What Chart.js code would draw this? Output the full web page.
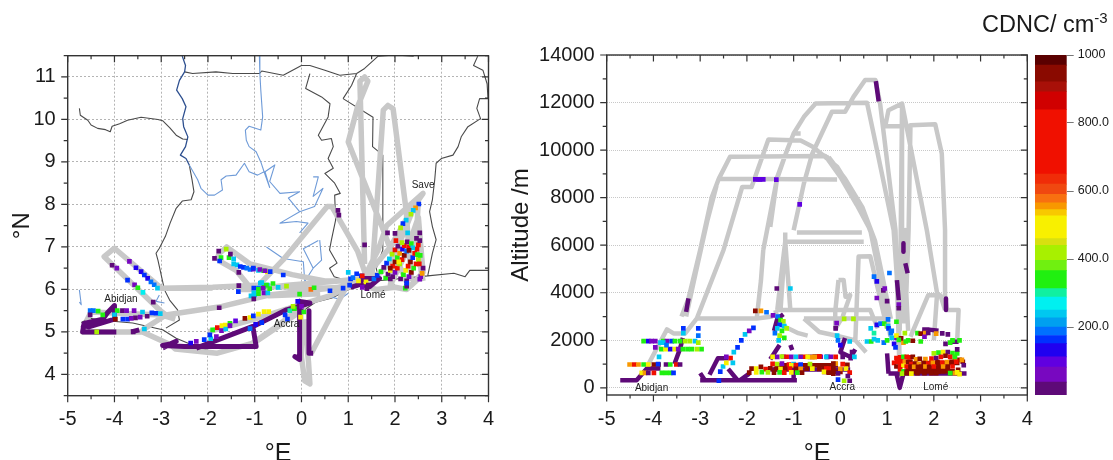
<!DOCTYPE html>
<html lang="en">
<head>
<meta charset="UTF-8" />
<title>CDNC flight tracks</title>
<script src="https://cdn.jsdelivr.net/npm/chart.js"></script>
<style>
  html, body { margin: 0; padding: 0; background: #fff; overflow: hidden; }
  canvas { position: absolute; top: 0; }
  #mapChart { left: 0; }
  #altChart { left: 500px; }
  #barChart { left: 1030px; }
  #cbTitle {
    position: absolute; left: 982px; top: 11px; white-space: nowrap;
    font: 23.5px "Liberation Sans", Arial, sans-serif; color: #1a1a1a;
  }
  #cbTitle sup { font-size: 15px; line-height: 0; }
</style>
</head>
<body>
<canvas id="mapChart" width="510" height="460"></canvas>
<canvas id="altChart" width="560" height="460"></canvas>
<canvas id="barChart" width="83" height="460"></canvas>
<div id="cbTitle">CDNC/ cm<sup>-3</sup></div>

<script>
// axis ticks
const lonTicks = [-5, -4, -3, -2, -1, 0, 1, 2, 3, 4];
const latTicks = [4, 5, 6, 7, 8, 9, 10, 11];
const altTicks = [0, 2000, 4000, 6000, 8000, 10000, 12000, 14000];
const cbTicks = [200, 400, 600, 800, 1000];
const cbTickLabels = ['200.0', '400.0', '600.0', '800.0', '1000'];

// colour bar: upper bound of each band and its colour
const cbBands = [38, 82, 112, 151, 175, 200, 227, 250, 288, 313, 366, 396, 440, 460, 527, 545, 565, 590, 620, 650, 839, 892, 921, 970, 1000];
const cbColors = ['#5e0a78', '#7808c0', '#6000e0', '#2000f0', '#0030ff', '#0070ff', '#00a0f0', '#00c8f0', '#00f0f0', '#10f0a0',
  '#20f010', '#70f010', '#a8f000', '#d8e010', '#f8f000', '#f8c800', '#f89800', '#f87010', '#f04810', '#f02c08',
  '#f01000', '#d00000', '#a81008', '#8a0a00', '#5a0000'];

// place names
const mapPlaceNames = ['Abidjan', 'Accra', 'Lomé', 'Save'];
const mapPlaceLon = [-3.86, -0.32, 1.53, 2.6];
const mapPlaceLat = [5.78, 5.17, 5.86, 8.45];
const altPlaceNames = ['Abidjan', 'Accra', 'Lomé'];
const altPlaceLon = [-4.04, 0.04, 2.04];
const altPlaceAlt = [0, 40, 40];

// country borders, null breaks a line
const borderLon = [-4.75,-4.73,-4.57,-4.5,-4.36,-4.19,-4.09,-4.05,-3.89,-3.72,-3.43,-3.07,-2.97,-2.82,-2.68,-2.54,-2.43,null,
  -2.4,-2.34,-2.3,-2.36,-2.55,-2.68,-2.81,-2.91,-3.04,-3.11,-3.07,-2.93,-2.82,-2.65,-2.61,-2.9,null,
  -2.5,-2.33,-1.83,-1.47,-0.9,-0.85,-0.39,0,0.18,0.5,0.82,1.18,1.35,1.64,2.0,2.4,null,
  3.77,3.68,3.88,3.97,3.99,3.81,3.75,3.83,3.56,3.42,3.35,3.24,2.99,2.88,2.85,2.8,2.74,2.8,2.88,2.8,2.7,3.26,3.5,3.6,4.0,null,
  0.18,0.09,0.43,0.61,0.57,0.36,0.43,0.64,0.68,0.57,0.68,0.5,0.71,0.83,0.71,0.73,0.64,0.6,0.76,0.6,0.7,1.0,1.2,null,
  0.89,1.07,1.18,null,0.89,1.53,1.52,1.74,1.74,1.6,1.65,null,
  -4.71,-4.53,-4.04,-3.61,-2.97,-2.68,-2.18,-1.76,-1,-0.1,0.3,0.65,1.2,1.6,2.7];
const borderLat = [10.26,10.1,9.98,9.87,9.79,9.76,9.71,9.84,9.9,9.98,10.05,10.0,9.97,9.81,9.63,9.54,9.53,null,
  8.93,8.58,8.3,8.11,8.08,7.91,7.56,7.25,6.97,6.85,6.69,5.99,5.75,5.52,5.28,5.09,null,
  11.12,11.08,11.12,11.08,11.08,11.14,11.04,11.27,11.27,11.16,11.04,11.08,11.2,11.49,11.52,11.49,null,
  11.49,11.27,11.16,10.84,10.49,10.49,10.26,10.02,9.83,9.6,9.36,9.16,9.08,8.97,8.58,8.11,7.83,7.48,7.17,6.85,6.32,6.38,6.3,6.45,6.45,null,
  11.08,10.73,10.53,10.37,10.06,9.63,9.51,9.55,9.36,9.08,8.85,8.73,8.5,8.26,8.22,7.63,7.16,6.93,6.62,6.5,6.3,6.2,6.1,null,
  10.49,10.8,11.08,null,10.49,10.05,9.36,9.16,6.93,6.5,6.2,null,
  5.22,5.32,5.25,5.21,5.05,4.85,4.62,4.5,4.75,5.4,5.7,5.8,6.1,6.2,6.32];

// rivers, null breaks a line
const riverLon = [-2.4,-2.22,-2.15,-2.0,-1.86,-1.69,-1.72,-1.61,-1.4,-1.22,-1.12,-0.94,-0.8,-0.68,-0.78,-0.57,-0.68,-0.46,-0.04,-0.28,-0.04,-0.46,-0.11,0.14,-0.04,null,
  -0.9,-0.89,-0.87,-0.83,-0.87,-1.12,-1.2,-1.18,-1.12,-0.97,-0.87,-0.8,null,
  0.25,0.36,0.25,0.46,0.28,-0.04,null,0.39,0.43,0.25,0.07,0.04,-0.39,-0.75,null,0.36,0.04,0.25,null,
  0.64,0.82,1.0,null,-4.75,-4.71,-4.75,null,-3.04,-3.11,-2.93];
const riverLat = [8.93,8.58,8.38,8.22,8.22,8.34,8.58,8.67,8.69,8.97,8.77,8.69,8.77,8.4,8.77,8.93,8.54,8.26,8.3,8.15,7.83,7.56,7.6,7.56,7.33,null,
  11.49,11.08,10.69,10.06,9.75,9.84,9.75,9.51,9.36,9.24,9.0,8.77,null,
  8.65,8.65,8.19,8.38,7.95,7.83,null,7.16,6.69,6.5,6.19,6.65,6.73,7.0,null,7.15,6.96,6.5,null,
  5.82,5.77,5.91,null,5.99,5.64,5.7,null,5.87,5.72,5.68];

// the river stretch that is also the border
const voltaLon = [-2.55,-2.48,-2.5,-2.61,-2.67,-2.55,-2.47,-2.54,-2.52,-2.43,-2.48,-2.59,-2.47,-2.4];
const voltaLat = [11.49,11.27,11.12,10.92,10.69,10.49,10.3,10.02,9.83,9.59,9.36,9.16,9.08,8.93];

// grey flight tracks on the map
const trackLon = [-1.9,-3,-4,-4.22,-3.04,-2.9,-3.38,-2.9,-1.7,-0.7,0.8,1.2,null,
  -4.6,-4.68,-3.96,-3.4,-2.8,-2.7,-1.8,-1,0,0.1,null,-4.6,-4.5,-3,-2.7,null,
  -3,-1.9,-1,0.2,1.0,1.3,null,-1.35,-1.1,-0.3,0.8,1.25,null,
  -1.75,-1.6,-1.1,-0.55,-0.2,0.5,1.2,null,-1.75,-1.8,-1.72,-1.4,-1.1,-0.7,0.4,null,
  -1,-0.39,0.55,0.65,1.2,1.45,null,-2,-1,0,0.6,1.1,null,-1.1,-0.5,0,null,
  1.35,1.25,1.35,1.42,1.2,1.0,1.75,2.05,null,1.5,1.75,1.85,1.96,2.24,2.28,2.35,null,
  1.3,1.64,1.82,2.6,2.5,2.45,2.55,2.6,null,1.3,1.9,2.45,2.1,1.9,2.25,2.5,2.6,2.3,2.0,1.7,1.3,null,
  -0.02,0,0.07,0.18,0.15,0.06,null,0.21,1.0,1.2,null,1.3,1.6,2.0,2.25,2.55];
const trackLat = [6.03,6.03,6.97,6.77,5.52,5.4,5.06,5.4,5.6,5.87,6.05,6.2,null,
  5.15,5.0,5.0,5.0,4.7,4.6,4.5,4.75,5.5,5.7,null,5.25,5.47,5.4,5.3,null,
  6.03,6.05,6.1,6.02,6.05,6.2,null,6.0,6.0,6.1,6.2,6.25,null,
  6.85,7.0,6.6,6.45,6.35,6.2,6.2,null,6.85,6.75,6.65,6.45,6.05,5.85,5.9,null,
  6.0,6.7,7.95,7.95,6.9,6.1,null,5.0,5.3,5.65,5.85,6.1,null,4.7,5.15,5.6,null,
  6.6,10.9,11.0,10.9,10.3,9.47,7.4,6.5,null,6.2,10.22,10.33,10.25,7.85,7.2,6.2,null,
  6.2,6.93,7.5,8.26,8.1,7.1,6.5,6.2,null,6.2,7.0,8.05,7.1,6.1,6.9,7.7,6.4,6.05,6.8,6.4,6.2,null,
  5.6,4.4,3.85,3.78,4.3,5.3,null,4.5,6.15,6.2,null,6.1,6.0,6.05,6.0,6.3];

// long stretches of very low CDNC on the map
const lowMapLon = [-4.71,-4.55,-4.3,-4.0,-4.0,-4.15,-4.25,-4.65,-4.68,-3.96,null,-3.64,-3.47,null,
  -2.97,-2.68,-2.8,-2.97,-2.5,-0.97,-1.04,-2.25,null,-1.1,-0.32,0.18,-0.04,-0.04,-0.14,-0.04,null,0.16,0.16,0.25,null,
  1.05,1.21,1.32,1.67,1.46,1.28,null,0.0,-0.04];
const lowMapLat = [5.17,5.12,5.2,5.3,5.62,5.45,5.3,5.2,5.0,5.0,null,5.0,5.05,null,
  4.62,4.78,4.72,4.68,4.66,4.66,5.13,4.62,null,5.09,5.52,5.68,5.72,4.35,4.42,4.38,null,5.5,4.5,4.5,null,
  6.05,6.1,6.26,6.26,6.07,6.12,null,5.55,5.45];

// coloured samples on the map
const mapLon = [-4.05,-3.95,-3.68,-3.54,-3.43,-3.36,-3.29,-3.22,-3.15,-3.08,
  -3.72,-3.57,-3.5,-3.39,-3.17,
  -4.52,-4.45,-4.52,-4.35,-4.25,-3.94,-3.83,-3.74,-3.58,-3.4,-3.2,-3.11,-3.02,
  -4,-3.98,-3.82,-3.72,-3.64,-3.55,-3.45,-3.3,-3.36,-4.38,-3.6,-1.76,
  -1.9,-1.8,-1.7,-1.63,-1.53,-1.41,-1.21,-1.1,-1.03,-0.92,-0.8,-0.7,
  -2.37,-2.25,-2.08,-1.94,-1.96,-1.82,-1.71,-1.62,-1.53,-1.1,-0.85,-0.98,
  -1.77,-1.86,-1.61,-1.72,-1.75,-1.55,-1.45,-1.52,-1.45,-1.38,-1.31,-1.24,-1.17,-1.1,-1.03,-0.92,-0.81,-0.73,-1.34,-1.34,-1.35,
  -1.08,-1,-1.02,-1.02,-0.92,-0.88,-0.8,-0.73,-0.92,-0.8,-0.72,
  -0.39,-1.03,-0.89,-0.78,-0.67,-0.85,-0.75,-0.61,-1.02,-0.92,-0.82,-0.68,-0.5,-0.32,0.2,0.27,-0.04,0.61,0.89,1.03,
  1.0,1.05,1.18,1.28,-0.35,-0.25,-0.15,-0.3,-0.18,-0.08,0,0.05,-0.02,
  1.1,1.22,1.3,1.38,1.43,1.3,1.4,
  2.51,2.44,2.39,2.34,2.24,2.17,2.12,2.0,1.84,2.27,2.53,2.46,1.35,0.78,0.8,
  1.55,1.62,1.7,1.76,1.82,1.88,1.94,2.0,2.06,
  1.8,1.85,1.9,1.95,2.0,2.05,2.1,2.16,2.2,2.26,
  1.95,2.0,2.05,2.1,2.15,2.2,2.25,2.3,2.35,
  2.12,2.18,2.23,2.28,2.33,2.38,2.42,2.47,
  2.25,2.3,2.35,2.4,2.45,2.5,2.48,2.5,2.53,
  2.55,2.58,2.6,2.52,2.54,2.22,2.25,2.25,2.53,1.9,2.02,2.15,2.38,2.3,2.08,1.9];
const mapLat = [6.57,6.5,6.66,6.51,6.42,6.34,6.26,6.18,6.11,6.03,
  6.22,6.11,6.04,5.93,5.7,
  5.5,5.5,5.4,5.49,5.4,5.5,5.5,5.5,5.5,5.47,5.45,5.44,5.43,
  5.4,5.3,5.3,5.3,5.32,5.33,5.35,5.37,5.07,5.0,5.0,5.57,
  5.05,5.1,5.15,5.16,5.2,5.26,5.32,5.34,5.38,5.42,5.48,5.48,
  4.74,4.78,4.82,4.84,4.93,4.89,5.03,5.07,5.15,5.08,5.22,5.18,
  6.9,6.73,6.95,6.75,6.67,6.75,6.72,6.83,6.6,6.58,6.54,6.52,6.5,6.47,6.48,6.45,6.44,6.42,6.4,6.09,5.95,
  5.85,5.87,5.78,6.03,6.03,6.15,6.07,6.1,5.9,5.92,5.92,
  6.34,6.5,6.47,6.44,6.42,6.16,6.1,6.14,5.92,6.0,6.03,6.02,6.05,6.08,6,6.04,5.89,5.97,6.03,6.1,
  6.4,6.25,6.37,6.32,5.4,5.5,5.55,5.3,5.6,5.72,5.6,5.47,5.35,
  6.28,6.2,6.32,6.18,6.1,6.05,6.02,
  8.01,7.92,7.86,7.77,7.63,7.55,7.45,7.32,7.33,7.33,7.33,7.2,7.05,7.86,7.75,
  6.25,6.33,6.42,6.52,6.62,6.72,6.83,6.93,7.02,
  6.27,6.36,6.45,6.55,6.65,6.75,6.85,6.95,7.03,7.12,
  6.3,6.4,6.5,6.6,6.7,6.8,6.9,7.0,7.08,
  6.25,6.35,6.45,6.55,6.65,6.75,6.85,6.95,
  6.2,6.3,6.4,6.5,6.6,6.7,6.82,7.05,7.15,
  6.3,6.38,6.5,6.6,6.8,6.03,6.08,6.15,6.24,6.25,7.15,7.1,6.98,6.92,6.65,6.5];
const mapCdnc = [20,60,60,120,120,160,120,200,200,250,
  160,60,340,280,30,
  200,200,30,340,330,340,30,60,60,250,160,160,250,
  250,930,160,160,60,30,60,30,250,400,30,30,
  320,680,480,480,340,90,930,480,160,480,480,480,
  120,60,160,250,160,60,60,250,60,200,160,120,
  20,30,400,340,160,340,250,30,250,250,160,160,200,200,80,250,340,480,30,20,160,
  250,250,30,160,200,250,340,250,340,80,250,
  160,160,60,60,160,250,340,340,250,340,80,340,250,400,580,340,340,160,160,160,
  250,160,160,160,160,300,340,160,400,120,60,340,480,
  200,480,700,480,30,80,30,
  160,560,250,400,250,160,400,30,30,250,30,30,30,30,30,
  200,160,320,30,160,250,400,700,30,
  320,30,480,700,930,320,560,120,700,30,
  30,60,700,400,700,930,200,700,320,
  30,320,480,700,930,160,700,700,
  30,60,930,320,700,400,320,700,30,
  60,560,30,700,320,320,30,160,60,30,700,400,250,930,480,930];

// grey flight tracks in the altitude section
const altTrackLon = [-4.14,-3.71,-3.57,-3.32,-3.07,-1.79,-1.45,null,-3.4,-3.25,-3,-2.75,-2.6,-0.07,null,
  -3.3,-3.1,-2.85,-2.65,null,
  -3.07,-2.5,-2.1,-1.9,-1.54,-0.85,-0.6,-0.07,0.4,0.64,0.93,1.07,null,
  -2.6,-2.36,-0.32,0,0.35,0.64,0.78,0.93,1.07,null,
  -0.3,0.05,0.42,0.7,0.85,1.02,null,-0.25,0.1,0.47,0.74,0.9,1.08,null,
  -1.65,-1.36,-1.14,-1,-0.78,-0.53,0.57,0.71,1.14,1.25,1.27,null,
  -1.79,-1.7,-1.65,null,-1.35,-1.25,-1.18,-1.18,null,
  -1.5,-1.35,-1.14,-1,-0.85,null,-1,-0.78,-0.6,-0.18,0.1,0.28,0.53,0.75,0.85,1.18,1.27,null,
  1.27,1.32,1.03,0.96,1.32,1.32,1.32,1.39,1.46,1.5,2.03,2.17,2.24,2.24,2.28,2.53,2.5,null,
  1.32,1.85,2.07,2,null,1.5,1.88,2.14,2.24,null,1.39,1.39,1.45,null,
  0.32,0.39,0.64,1.0,null,-1.18,0.5,null,-0.93,0.46,null,-1.39,0.64,0.8,null,-0.78,1,null,
  -1.07,-1.18,-1.28,null,-0.04,0.07,0.11,0.21,0.05,-0.1,-0.11,-0.04,null,-0.78,-0.45,-0.1,0.32,0.55,null,-1.39,-1.32,-0.9,-0.7];
const altTrackAlt = [880,2460,2290,2290,2920,2920,3000,null,3000,3760,5800,8030,8800,8760,null,
  3000,4800,7000,8500,null,
  2920,5800,8450,8450,10450,10400,10150,9300,7800,6640,3830,2150,null,
  8800,9720,9750,8870,7700,6640,5400,3900,2150,null,
  9750,8900,7700,6300,4800,3000,null,9700,8800,7600,6200,4700,2900,null,
  5800,8760,10000,10700,11400,11960,11990,10700,6630,3500,300,null,
  2920,4500,5800,null,3270,5000,6150,6530,null,
  6770,8870,10000,10700,10700,null,6630,8600,9860,11610,11610,12240,12950,12950,11960,6630,400,null,
  2400,11960,11680,11000,11000,6630,2800,2800,6630,11050,11090,9860,6630,3830,3270,3270,2000,null,
  11960,6630,3970,2000,null,2150,3900,3900,3270,null,6640,4820,2400,null,
  2000,5520,5540,2500,null,6150,6150,null,6530,6530,null,3270,3270,2500,null,2920,2920,null,
  3270,6150,3270,null,4540,4540,3830,3900,3000,2500,3200,4540,null,2920,2350,2200,2000,1500,null,3270,2700,2300,2200];

// long stretches of very low CDNC in the altitude section
const lowAltLon = [-4.71,-4.36,-4.14,-3.85,null,-3.55,-3.43,-3.37,null,-3.25,-3.3,null,-3.0,-0.93,null,-2.9,-3.0,null,
  -2.8,-2.62,-2.4,null,-2.2,-2.4,null,-2.15,-1.95,null,-1.5,0.21,null,-1,-1,null,-1.07,-1.03,null,
  1.03,2.7,null,1.0,1.03,null,1.2,1.27,1.35,null,1.35,1.35,null,1.39,1.44,null,1.21,1.25,null,
  2.26,2.26,null,0.76,0.82,null,-1.5,-1.3,null,0.1,0.0,0.22,0.32,null,2.35,2.53,null,-1.42,-1.35,-1.22,null,1.75,1.9,2.1];
const lowAltAlt = [320,320,810,810,null,1000,1650,2100,null,3760,3200,null,320,320,null,320,620,null,
  550,1250,1250,null,320,800,null,320,600,null,770,770,null,750,320,null,1800,1590,null,
  600,600,null,1450,600,null,600,0,600,null,6080,5730,null,5240,4820,null,4530,3690,null,
  3760,3270,null,12900,12050,null,1200,1800,null,2100,1500,1300,1620,null,1940,1940,null,2400,2900,3100,null,2460,2450,2400];

// long stretches of very high CDNC in the altitude section
const highAltLon = [-1.4,-0.05,null,-0.39,0.05,null,1.3,2.45,null,1.4,2.3,null,1.32,1.55,null,1.75,2.55];
const highAltAlt = [950,950,null,670,670,null,700,700,null,850,850,null,1100,1100,null,1050,1050];

// coloured samples in the altitude section
const altLon = [-4.21,-4.11,-4.04,-3.96,-3.79,-3.71,-3.61,-3.54,-3.43,-3.32,-3.22,-3.11,-3.04,
  -3.83,-3.74,-3.64,-3.54,-3.47,-3.37,-3.27,-3.18,-3.07,-2.97,
  -4.51,-4.41,-4.32,-4.21,-4.11,-3.99,-3.89,-3.73,-3.64,-3.51,-3.43,
  -4.25,-4.18,-4.11,-3.99,-3.82,-3.73,-3.64,-3.57,
  -3.96,-3.85,-3.88,-3.9,-3.79,-3.72,-3.36,-3.36,-3.04,-3.04,
  -2.57,-2.51,-2.44,-2.35,-2.28,-2.2,-2.12,-2.04,-1.95,-1.86,
  -2.6,-2.44,-2.3,-1.82,-1.72,-1.37,-1.65,-1.75,-0.87,-1.36,-1.07,
  -1.82,-1.7,-1.58,-1.44,-1.34,-1.28,-1.22,-1.3,-1.2,-1.15,-1.35,-1.25,-1.4,-1.3,-1.2,-1.32,-1.22,
  -1.45,-1.35,-1.25,-1.15,-1.05,-0.95,-0.85,-0.75,-0.65,-0.55,-0.42,-0.28,-0.1,
  -1.45,-1.35,-1.25,-1.1,-1.0,-0.85,-0.7,-0.6,-0.45,-0.3,-0.2,-0.1,0.05,0.15,
  -1.05,-0.95,-0.85,-0.65,-0.55,-0.45,-0.35,-0.1,-0.15,-0.25,
  -1.9,-1.8,-1.7,-1.6,-1.5,-1.38,-1.28,-1.18,-1.08,-0.95,-0.85,-0.72,-0.6,-0.45,-0.3,-0.15,0.0,0.12,0.2,
  -1.95,-1.8,-1.68,-1.55,-1.42,-1.3,-1.2,-1.05,-0.92,-0.82,
  -0.35,-0.25,-0.15,-0.05,0.08,0.16,0.2,-0.05,0.05,0.22,0.28,
  -0.08,-0.1,-0.07,-0.05,0.0,0.08,0.25,0.3,0.2,
  0.57,0.66,0.72,0.78,0.86,0.94,1.0,0.65,0.72,0.8,0.93,1.0,1.05,
  0.72,0.78,0.92,0.95,0.78,1.0,1.02,
  1.08,1.1,1.15,1.18,1.2,1.02,1.03,1.1,1.2,1.25,1.25,1.2,
  1.38,1.35,1.3,1.25,1.4,1.45,1.55,1.65,1.72,1.82,1.88,2.05,2.18,2.3,2.4,2.5,
  2.0,2.1,2.2,2.3,2.4,2.5,2.55,1.72,1.8,2.25,2.35,2.45,
  1.2,1.28,1.35,1.42,1.48,1.55,1.62,1.7,1.82,1.95,2.05,2.15,2.25,2.35,2.45,2.55,2.62,
  1.15,1.22,1.3,1.38,1.45,1.52,1.6,1.68,1.78,1.88,1.98,2.08,2.18,2.28,2.38,2.48,2.6,2.64,
  1.2,1.28,1.35,1.42,1.5,1.58,1.66,1.74,1.82,1.9,2.0,2.1,2.2,2.3,2.4,2.52,
  1.28,1.35,1.42,1.5,1.6,1.7,1.8,1.9,2.0,2.1,2.2,2.3,2.45,2.5,2.55,
  1.32,1.42,1.52,1.65,1.8,1.95,2.05,2.35,2.55,2.5,2.5,2.48];
const altAlt = [1966,1966,1966,1966,1966,1966,1966,1966,1966,1966,1966,1966,1900,
  1629,1629,1629,1629,1629,1629,1629,1629,1629,1629,
  983,983,983,983,983,983,983,983,983,983,983,
  632,632,632,632,632,632,632,632,
  1700,1900,1300,1000,1900,1800,2300,2500,2200,2500,
  680,900,1050,1250,1500,1700,2000,2250,2400,2520,
  300,1300,1050,8770,8770,8760,8770,8770,7720,4180,4180,
  3240,3240,3180,3050,3000,2850,2800,2650,2600,2500,2500,2400,2300,2200,2100,2000,
  1310,1300,1300,1320,1310,1300,1300,1320,1310,1300,1320,1310,1300,
  1000,1010,1000,1020,980,1000,1310,1300,1290,1310,1300,1310,1300,1300,
  970,950,960,980,1000,1290,1330,820,1020,1020,
  810,810,810,880,790,820,800,790,800,810,800,800,810,810,800,810,800,800,810,
  640,640,650,660,650,640,650,640,650,640,
  640,670,640,600,610,300,500,300,350,1000,1250,
  2900,2720,2500,2200,2000,1800,2900,1500,1300,
  1950,1950,1950,2050,2650,2700,2700,2600,2500,2300,2000,1900,2000,
  4830,4680,4480,4100,4180,3780,3650,
  2880,2300,2100,1850,1700,2780,2600,2500,2400,2100,3500,3350,
  2200,2300,1900,2080,2020,1950,2000,1980,2300,2280,2300,2310,2280,2290,2250,2000,
  1450,1450,1480,1500,1500,1460,1620,2000,1950,2150,1850,1900,
  1250,1250,1280,1300,1300,1280,1300,1200,1220,1210,1230,1250,1300,1350,1300,1300,1180,
  1100,1050,1100,1120,1100,1080,1000,1020,1000,1040,1020,1050,1080,1060,1080,1100,1100,1180,
  950,900,950,930,900,900,880,880,900,900,880,900,880,900,880,900,
  760,780,700,680,700,680,700,680,700,680,680,700,720,620,650,
  580,600,620,600,620,620,620,620,620];
const altCdnc = [340,120,60,60,340,60,160,340,340,400,400,250,400,
  340,480,120,480,60,340,340,340,400,340,
  560,700,560,340,480,930,930,30,340,700,30,
  480,560,30,700,340,340,340,160,
  60,250,250,160,250,200,250,160,200,160,
  160,250,480,700,250,160,160,250,80,160,
  160,60,250,90,90,90,90,90,90,30,250,
  930,560,200,60,200,340,400,160,250,400,250,340,200,400,340,250,
  80,480,60,400,700,80,250,480,700,30,930,80,30,
  30,700,400,80,700,250,60,480,560,700,250,60,700,30,
  930,480,700,160,400,560,700,930,560,930,
  700,930,480,930,700,930,930,480,930,700,930,560,930,480,930,700,930,560,480,
  700,930,480,320,400,930,340,700,480,320,
  930,480,930,930,30,400,30,30,160,700,30,
  400,80,30,250,200,120,400,30,250,
  250,250,340,250,120,200,340,400,250,300,250,200,340,
  200,200,120,30,60,80,30,
  200,200,250,120,160,340,250,160,200,80,60,30,
  480,400,560,930,340,340,340,930,320,930,560,30,560,30,30,340,
  340,400,340,480,30,340,30,340,340,60,30,320,
  560,700,700,340,700,700,930,560,930,560,700,30,700,930,700,340,930,
  930,700,700,700,560,930,700,930,560,930,700,560,930,700,560,930,700,560,
  30,930,700,480,700,930,560,930,930,560,930,700,930,560,930,700,
  930,700,340,930,930,930,930,930,930,930,930,930,930,560,480,
  480,400,930,480,930,930,930,930,340,320,400,200];

const FONT = '"Liberation Sans", Arial, sans-serif';
const INK = '#1a1a1a';

function colorFor(v) {
  let i = cbBands.findIndex(b => v <= b);
  return cbColors[i < 0 ? cbColors.length - 1 : i];
}

function zip(xs, ys) {
  return xs.map((x, i) => ({ x: x, y: ys[i] }));
}

// ticks on all four sides, minor ones halfway, and the frame
const frameTicks = {
  id: 'frameTicks',
  afterDraw(chart, args, opts) {
    const c = chart.ctx, a = chart.chartArea, sx = chart.scales.x, sy = chart.scales.y;
    c.save();
    c.strokeStyle = '#333';
    c.lineWidth = 1.4;
    c.strokeRect(a.left, a.top, a.right - a.left, a.bottom - a.top);
    c.lineWidth = 1.2;
    c.beginPath();
    for (let v = sx.min; v <= sx.max; v += 0.5) {
      const p = sx.getPixelForValue(v), len = Number.isInteger(v) ? 6.5 : 3.5;
      c.moveTo(p, a.bottom); c.lineTo(p, a.bottom + len);
      c.moveTo(p, a.top); c.lineTo(p, a.top + len);
    }
    for (let v = opts.yFirst; v <= sy.max; v += opts.yMinor) {
      const p = sy.getPixelForValue(v), big = Math.round(v / opts.yMinor) % 2 === 0;
      c.moveTo(a.left, p); c.lineTo(a.left - (big ? 6.5 : 4), p);
      c.moveTo(a.right, p); c.lineTo(a.right - (big ? 6.5 : 3.5), p);
    }
    c.stroke();
    c.restore();
  }
};

// small place names, drawn from the data scales
const placeLabels = {
  id: 'placeLabels',
  afterDatasetsDraw(chart, args, opts) {
    const c = chart.ctx;
    c.save();
    c.fillStyle = '#222';
    c.font = '10px ' + FONT;
    c.textAlign = 'center';
    c.textBaseline = 'middle';
    opts.names.forEach((n, i) => {
      c.fillText(n, chart.scales.x.getPixelForValue(opts.xs[i]), chart.scales.y.getPixelForValue(opts.ys[i]));
    });
    c.restore();
  }
};

function lineSet(data, color, width) {
  return {
    data: data, showLine: true, pointRadius: 0, borderColor: color, backgroundColor: color,
    borderWidth: width, tension: 0, spanGaps: false, borderJoinStyle: 'round', borderCapStyle: 'butt'
  };
}

function pointSet(data, cdnc) {
  return {
    data: data, showLine: false, pointStyle: 'rect', pointRadius: 3.3, borderWidth: 0,
    backgroundColor: cdnc.map(colorFor)
  };
}

function panel(id, cfg) {
  return new Chart(document.getElementById(id), {
    type: 'scatter',
    data: { datasets: cfg.datasets },
    plugins: [frameTicks, placeLabels],
    options: {
      responsive: false,
      animation: false,
      events: [],
      layout: { padding: { left: 0, top: cfg.top, right: cfg.right, bottom: 0 } },
      plugins: {
        legend: { display: false },
        tooltip: { enabled: false },
        frameTicks: { yFirst: cfg.yFirst, yMinor: cfg.yMinor },
        placeLabels: cfg.places
      },
      scales: {
        x: {
          min: -5, max: 4,
          afterFit: s => { s.height = cfg.bottom; },
          afterBuildTicks: s => { s.ticks = lonTicks.map(v => ({ value: v })); },
          grid: { display: cfg.xGrid, color: '#b4b4b4', lineWidth: 1, tickLength: 0, drawTicks: false, drawOnChartArea: cfg.xGrid },
          border: { display: false, dash: cfg.gridDash },
          ticks: {
            autoSkip: false, maxRotation: 0, padding: 12, color: INK,
            font: { family: FONT, size: 20 }, callback: v => String(v)
          },
          title: { display: true, text: '°E', color: INK, font: { family: FONT, size: 25, lineHeight: 1 }, padding: { top: 0, bottom: -7 } }
        },
        y: {
          min: cfg.yMin, max: cfg.yMax,
          afterFit: s => { s.width = cfg.left; },
          afterBuildTicks: s => { s.ticks = cfg.yTicks.map(v => ({ value: v })); },
          grid: { color: cfg.gridColor, lineWidth: 1, drawTicks: false },
          border: { display: false, dash: cfg.gridDash },
          ticks: {
            autoSkip: false, padding: 12, color: INK,
            font: { family: FONT, size: 20 }, callback: v => String(v)
          },
          title: { display: true, text: cfg.yTitle, color: INK, font: { family: FONT, size: 24, lineHeight: 1 }, padding: { top: cfg.titlePad, bottom: 0 } }
        }
      }
    }
  });
}

panel('mapChart', {
  left: 67.7, top: 55.7, right: 21.5, bottom: 64.3,
  yMin: 3.5, yMax: 11.5, yTicks: latTicks, yFirst: 3.5, yMinor: 0.5, yTitle: '°N', titlePad: 10,
  xGrid: true, gridColor: '#b4b4b4', gridDash: [2, 2],
  places: { names: mapPlaceNames, xs: mapPlaceLon, ys: mapPlaceLat },
  datasets: [
    pointSet(zip(mapLon, mapLat), mapCdnc),
    lineSet(zip(lowMapLon, lowMapLat), colorFor(20), 5),
    lineSet(zip(trackLon, trackLat), '#c8c8c8', 5.5),
    lineSet(zip(voltaLon, voltaLat), '#2d4f8f', 1.3),
    lineSet(zip(riverLon, riverLat), '#6f9bd8', 1.1),
    lineSet(zip(borderLon, borderLat), '#4a4a4a', 1.1)
  ]
});

panel('altChart', {
  left: 106.7, top: 55, right: 32.7, bottom: 65,
  yMin: -300, yMax: 14000, yTicks: altTicks, yFirst: 0, yMinor: 1000, yTitle: 'Altitude /m', titlePad: 9,
  xGrid: false, gridColor: '#c8c8c8', gridDash: [1, 1],
  places: { names: altPlaceNames, xs: altPlaceLon, ys: altPlaceAlt },
  datasets: [
    pointSet(zip(altLon, altAlt), altCdnc),
    lineSet(zip(highAltLon, highAltAlt), colorFor(930), 4.5),
    lineSet(zip(lowAltLon, lowAltAlt), colorFor(20), 4.5),
    lineSet(zip(altTrackLon, altTrackAlt), '#c8c8c8', 4.5)
  ]
});

// colour bar built as one stacked column
new Chart(document.getElementById('barChart'), {
  type: 'bar',
  data: {
    labels: ['CDNC'],
    datasets: cbBands.map((b, i) => ({
      data: [b - (i ? cbBands[i - 1] : 0)],
      backgroundColor: cbColors[i],
      borderWidth: 0,
      barPercentage: 1,
      categoryPercentage: 1
    }))
  },
  options: {
    responsive: false,
    animation: false,
    events: [],
    layout: { padding: { left: 5, top: 55, right: 0, bottom: 65 } },
    plugins: { legend: { display: false }, tooltip: { enabled: false } },
    scales: {
      x: { stacked: true, display: false },
      y: {
        stacked: true, position: 'right', min: 0, max: 1000,
        afterFit: s => { s.width = 46.3; },
        afterBuildTicks: s => { s.ticks = cbTicks.map(v => ({ value: v })); },
        grid: { drawOnChartArea: false, tickColor: '#777', tickLength: 7, lineWidth: 1 },
        border: { display: false },
        ticks: {
          autoSkip: false, padding: 4, color: INK, font: { family: FONT, size: 12.5 },
          callback: v => cbTickLabels[cbTicks.indexOf(v)]
        }
      }
    }
  }
});
</script>
</body>
</html>
